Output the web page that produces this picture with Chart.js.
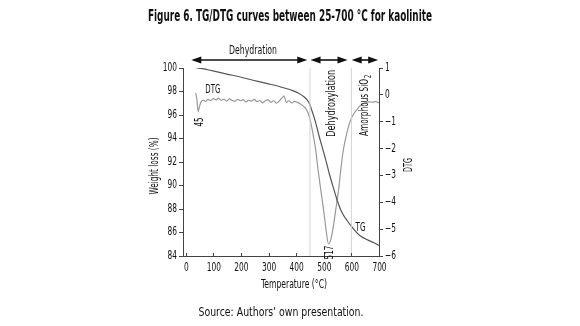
<!DOCTYPE html>
<html>
<head>
<meta charset="utf-8">
<script src="https://cdn.jsdelivr.net/npm/chart.js@4.4.1/dist/chart.umd.min.js"></script>
<style>
  html, body { margin: 0; padding: 0; background: #fff; }
</style>
</head>
<body>
<canvas id="chart" width="580" height="326"></canvas>
<script>
const FONT = "'DejaVu Sans Condensed', 'Liberation Sans Narrow', sans-serif";

// TG curve: temperature (°C) -> weight (%)
const tgTemps  = [39, 60, 80, 118, 170, 237, 300, 357, 390, 409, 428, 445, 458, 470, 482, 495, 508, 520, 531, 540, 549, 562, 573, 585, 596, 615, 633, 660, 680, 700];
const tgWeight = [100.0, 99.95, 99.85, 99.65, 99.38, 99.0, 98.65, 98.3, 98.05, 97.85, 97.55, 97.1, 96.3, 95.4, 94.3, 93.2, 92.1, 91.0, 90.1, 89.4, 88.7, 87.9, 87.4, 87.0, 86.65, 86.1, 85.7, 85.35, 85.15, 84.9];

// DTG curve: temperature (°C) -> DTG
const dtgTemps  = [36, 40, 45, 50, 56, 64, 72, 80, 90, 100, 110, 118, 128, 138, 148, 158, 168, 178, 188, 198, 208, 218, 228, 238, 248, 258, 268, 278, 288, 298, 308, 318, 328, 338, 348, 356, 364, 374, 384, 394, 404, 414, 424, 434, 442, 450, 460, 470, 480, 490, 500, 508, 517, 525, 533, 543, 554, 562, 570, 584, 596, 608, 620, 630, 640, 652, 664, 676, 688, 700];
const dtgValues = [0.07, -0.15, -0.63, -0.42, -0.25, -0.2, -0.24, -0.17, -0.21, -0.14, -0.19, -0.12, -0.2, -0.16, -0.23, -0.15, -0.2, -0.24, -0.17, -0.22, -0.18, -0.26, -0.2, -0.23, -0.17, -0.25, -0.21, -0.3, -0.22, -0.19, -0.28, -0.22, -0.31, -0.24, -0.12, -0.04, -0.28, -0.22, -0.3, -0.24, -0.28, -0.33, -0.4, -0.5, -0.65, -0.9, -1.4, -2.0, -2.85, -3.6, -4.35, -5.0, -5.55, -5.4, -5.0, -4.3, -3.5, -2.75, -2.1, -1.4, -0.97, -0.72, -0.55, -0.42, -0.35, -0.3, -0.26, -0.27, -0.25, -0.3];

const xTickValues = [0, 100, 200, 300, 400, 500, 600, 700];
const zoneBounds = [450, 600];

const toPoints = (xs, ys) => xs.map((x, i) => ({ x: x, y: ys[i] }));

const zoneLines = zoneBounds.map(t => ({
  data: [{ x: t, y: 84 }, { x: t, y: 100 }],
  yAxisID: "y",
  borderColor: "#d4d4d4",
  borderWidth: 1,
  pointRadius: 0,
  tension: 0
}));

// narrow text: draws with a horizontal squeeze (sx) or a fixed target width
function txt(ctx, str, x, y, opt) {
  const o = Object.assign({ size: 11, bold: false, align: "center", sx: 0.74, width: null, rot: 0 }, opt);
  ctx.save();
  ctx.font = (o.bold ? "bold " : "") + o.size + "px " + FONT;
  ctx.translate(x, y);
  if (o.rot) ctx.rotate(o.rot);
  let sx = o.sx;
  if (o.width) sx = o.width / ctx.measureText(str).width;
  ctx.scale(sx, 1);
  ctx.textAlign = o.align;
  ctx.textBaseline = "middle";
  ctx.fillText(str, 0, 0);
  ctx.restore();
}

function drawArrow(ctx, x1, x2, y) {
  const head = 10, half = 3.5;
  ctx.beginPath();
  ctx.moveTo(x1 + head - 2, y);
  ctx.lineTo(x2 - head + 2, y);
  ctx.stroke();
  ctx.beginPath();
  ctx.moveTo(x1, y); ctx.lineTo(x1 + head, y - half); ctx.lineTo(x1 + head, y + half); ctx.closePath();
  ctx.fill();
  ctx.beginPath();
  ctx.moveTo(x2, y); ctx.lineTo(x2 - head, y - half); ctx.lineTo(x2 - head, y + half); ctx.closePath();
  ctx.fill();
}

const UP = -Math.PI / 2;

const decorPlugin = {
  id: "decor",
  afterDraw(chart) {
    const ctx = chart.ctx;
    const xs = chart.scales.x, ys = chart.scales.y, ys1 = chart.scales.y1;
    const area = chart.chartArea;
    ctx.save();
    ctx.fillStyle = "#111";

    // titles
    txt(ctx, "Figure 6. TG/DTG curves between 25-700 °C for kaolinite", 290, 17, { size: 15, bold: true, width: 284 });
    txt(ctx, "Source: Authors’ own presentation.", 281, 313, { size: 13, width: 165 });

    // axis titles
    txt(ctx, "Temperature (°C)", 294, 285, { size: 11.5, width: 66 });
    txt(ctx, "Weight loss (%)", 155.5, 166, { size: 11.5, width: 57, rot: UP });
    txt(ctx, "DTG", 409, 165, { size: 11.5, width: 14, rot: UP });

    // tick labels
    xTickValues.forEach(v => txt(ctx, String(v), xs.getPixelForValue(v) + 0.5, 268, { size: 11.5, sx: 0.72 }));
    ys.ticks.forEach(t => txt(ctx, String(t.value), area.left - 6, ys.getPixelForValue(t.value), { size: 11.5, sx: 0.72, align: "right" }));
    ys1.ticks.forEach(t => {
      const s = t.value < 0 ? "−" + Math.abs(t.value) : String(t.value);
      txt(ctx, s, area.right + 6, ys1.getPixelForValue(t.value), { size: 11.5, sx: 0.72, align: "left" });
    });

    // inward x ticks
    ctx.strokeStyle = "#444";
    ctx.lineWidth = 1;
    xTickValues.forEach(v => {
      const px = Math.round(xs.getPixelForValue(v)) + 0.5;
      ctx.beginPath();
      ctx.moveTo(px, area.bottom);
      ctx.lineTo(px, area.bottom - 3);
      ctx.stroke();
    });

    // zone arrows
    ctx.strokeStyle = "#111";
    ctx.fillStyle = "#111";
    ctx.lineWidth = 1.6;
    const ay = 60;
    drawArrow(ctx, xs.getPixelForValue(20), xs.getPixelForValue(440), ay);
    drawArrow(ctx, xs.getPixelForValue(452), xs.getPixelForValue(586), ay);
    drawArrow(ctx, xs.getPixelForValue(601), xs.getPixelForValue(697), ay);

    // in-plot labels
    txt(ctx, "Dehydration", 253, 51, { size: 11.5, width: 48 });
    txt(ctx, "DTG", xs.getPixelForValue(98), ys.getPixelForValue(98.15), { size: 11.5, width: 15 });
    txt(ctx, "TG", xs.getPixelForValue(633), ys.getPixelForValue(86.35), { size: 11.5, width: 10 });
    txt(ctx, "45", xs.getPixelForValue(51), ys.getPixelForValue(95.4), { size: 11.5, width: 9, rot: UP });
    txt(ctx, "517", xs.getPixelForValue(522), ys.getPixelForValue(84.3), { size: 11.5, width: 14, rot: UP });
    txt(ctx, "Dehydroxylation", xs.getPixelForValue(529), ys.getPixelForValue(97), { size: 11.5, width: 67, rot: UP });

    // Amorphous SiO2 with subscript
    const ax = xs.getPixelForValue(650), ayc = ys.getPixelForValue(96.9);
    txt(ctx, "Amorphous SiO", ax, ayc + 3, { size: 11.5, width: 57, rot: UP });
    txt(ctx, "2", ax + 4, ayc - 28, { size: 8, sx: 0.8, rot: UP });

    ctx.restore();
  }
};

new Chart(document.getElementById("chart"), {
  type: "line",
  data: {
    datasets: [
      ...zoneLines,
      {
        label: "TG",
        data: toPoints(tgTemps, tgWeight),
        yAxisID: "y",
        borderColor: "#555",
        borderWidth: 1.2,
        pointRadius: 0,
        cubicInterpolationMode: "monotone"
      },
      {
        label: "DTG",
        data: toPoints(dtgTemps, dtgValues),
        yAxisID: "y1",
        borderColor: "#999",
        borderWidth: 1.2,
        pointRadius: 0,
        cubicInterpolationMode: "monotone"
      }
    ]
  },
  options: {
    responsive: false,
    animation: false,
    layout: { padding: { left: 140, right: 169, top: 68, bottom: 30 } },
    plugins: {
      legend: { display: false },
      tooltip: { enabled: false }
    },
    scales: {
      x: {
        type: "linear",
        min: -10,
        max: 700,
        afterBuildTicks: scale => { scale.ticks = xTickValues.map(v => ({ value: v })); },
        afterFit: scale => { scale.height = 40; },
        border: { display: true, color: "#444", width: 1 },
        grid: { display: true, drawOnChartArea: false, drawTicks: false },
        ticks: { display: false }
      },
      y: {
        position: "left",
        min: 84,
        max: 100,
        afterFit: scale => { scale.width = 43; },
        border: { display: true, color: "#444", width: 1 },
        grid: { drawOnChartArea: false, drawTicks: true, tickLength: 4, color: "#444" },
        ticks: { stepSize: 2, display: false }
      },
      y1: {
        position: "right",
        min: -6,
        max: 1,
        afterFit: scale => { scale.width = 32; },
        border: { display: true, color: "#444", width: 1 },
        grid: { drawOnChartArea: false, drawTicks: true, tickLength: 4, color: "#444" },
        ticks: { stepSize: 1, display: false }
      }
    }
  },
  plugins: [decorPlugin]
});
</script>
</body>
</html>
